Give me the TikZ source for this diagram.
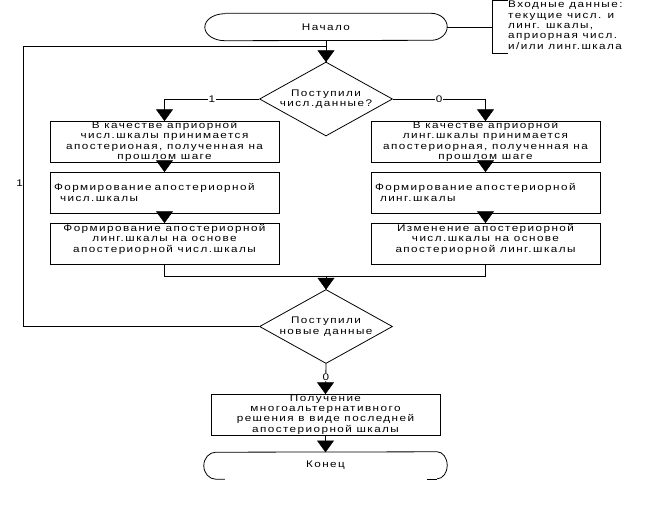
\documentclass[tikz,border=0pt]{standalone}
\usepackage{fontspec}
\setmainfont{Liberation Sans}[FakeStretch=1.22,LetterSpace=15]
\usetikzlibrary{shapes.geometric}
\newcommand\dtip[1]{\filldraw[black, line width=0.6pt, line join=miter] (#1) -- ++(-8,11) -- ++(16,0) -- cycle;}
\begin{document}
\begin{tikzpicture}[x=1pt,y=1pt,
  every node/.style={font=\fontsize{9.6}{10.3}\selectfont, inner sep=0pt},
  line/.style={line width=0.8pt, black},
  term/.style={rectangle, minimum width=#1, minimum height=27pt},
  proc/.style={rectangle, draw, line width=0.8pt, minimum width=229pt, minimum height=41pt, align=center},
  dec/.style={diamond, draw, line width=0.8pt, aspect=1.8, minimum width=133pt, minimum height=74pt, align=center},
  lab/.style={fill=white, inner sep=1pt}]
\useasboundingbox (0,0) rectangle (659,-523);
\fill[white] (0,0) rectangle (659,-523);

% start terminal
\node[term=242pt] (start) at (326,-27) {Начало};
\draw[line] ([xshift=20pt]start.north west) -- ([xshift=-16pt]start.north east)
  arc[start angle=90,end angle=-90,x radius=16pt,y radius=13.5pt]
  -- ([xshift=20pt]start.south west)
  arc[start angle=270,end angle=90,x radius=20pt,y radius=13.5pt];

% input note
\node[anchor=north west, align=left] (note) at (508,-1) {Входные данные:\\текущие числ. и\\линг. шкалы,\\априорная числ.\\и/или линг.шкала};
\coordinate (nb) at (492,-27);
\coordinate (nt) at (492,-0.5);
\coordinate (nbt) at (492,-53);
\draw[line] (start.east) -- (nb);
\draw[line] (nt -| note.west) -- (nt) -- (nbt) -- (nbt -| note.west);

% decision 1
\node[dec] (d1) at (326,-99) {Поступили\\числ.данные?};
\draw[line] (start.south) -- (d1.north); \dtip{d1.north}

% left column
\node[proc] (b1L) at (164.5,-141.5) {В качестве априорной\\числ.шкалы принимается\\апостерионая, полученная на\\прошлом шаге};
\node[proc, align=left, text width=221pt] (b2L) at (164.5,-192.5) {Формирование апостериорной\\\hspace{6pt}числ.шкалы};
\node[proc] (b3L) at (164.5,-243.5) {Формирование апостериорной\\линг.шкалы на основе\\апостериорной числ.шкалы\\\mbox{}};

% right column
\node[proc] (b1R) at (485.5,-141.5) {В качестве априорной\\линг.шкалы принимается\\апостериорная, полученная на\\прошлом шаге};
\node[proc, align=left, text width=221pt] (b2R) at (485.5,-192.5) {Формирование апостериорной\\\hspace{5pt}линг.шкалы};
\node[proc] (b3R) at (485.5,-243.5) {Изменение апостериорной\\числ.шкалы на основе\\апостериорной линг.шкалы\\\mbox{}};

\draw[line] (d1.west) -| node[lab, pos=0.25] {1} (b1L.north); \dtip{b1L.north}
\draw[line] (d1.east) -| node[lab, pos=0.25] {0} (b1R.north); \dtip{b1R.north}
\draw[line] (b1L) -- (b2L); \dtip{b2L.north}
\draw[line] (b2L) -- (b3L); \dtip{b3L.north}
\draw[line] (b1R) -- (b2R); \dtip{b2R.north}
\draw[line] (b2R) -- (b3R); \dtip{b3R.north}

% merge
\coordinate (m) at (326,-276);
\node[dec] (d2) at (326,-326.5) {Поступили\\новые данные};
\draw[line] (b3L.south) |- (m);
\draw[line] (b3R.south) |- (m);
\draw[line] (m) -- (d2.north); \dtip{d2.north}

% loop back
\coordinate (lc) at (23,-46);
\draw[line] (d2.west) -| (lc) -- (lc -| start.south);
\node[anchor=east] (l1) at (23,-183) {1};

% final
\node[proc] (b4) at (325.5,-414.5) {Получение\\многоальтернативного\\решения в виде последней\\апостериорной шкалы};
\draw[line] (d2.south) -- node[lab, pos=0.44] {0} (b4.north); \dtip{b4.north}

\node[term=243pt] (end) at (325.5,-465.5) {Конец};
\draw[line] (b4.south) -- (end.north); \dtip{end.north}
\draw[line] ([xshift=-10pt]end.south east) -- ([xshift=-20pt]end.south east);
\draw[line] ([xshift=21pt]end.south west) -- ([xshift=12pt]end.south west)
  arc[start angle=270,end angle=90,x radius=12pt,y radius=13.5pt]
  -- ([xshift=-10pt]end.north east)
  arc[start angle=90,end angle=-90,x radius=10pt,y radius=13.5pt];
\end{tikzpicture}
\end{document}
